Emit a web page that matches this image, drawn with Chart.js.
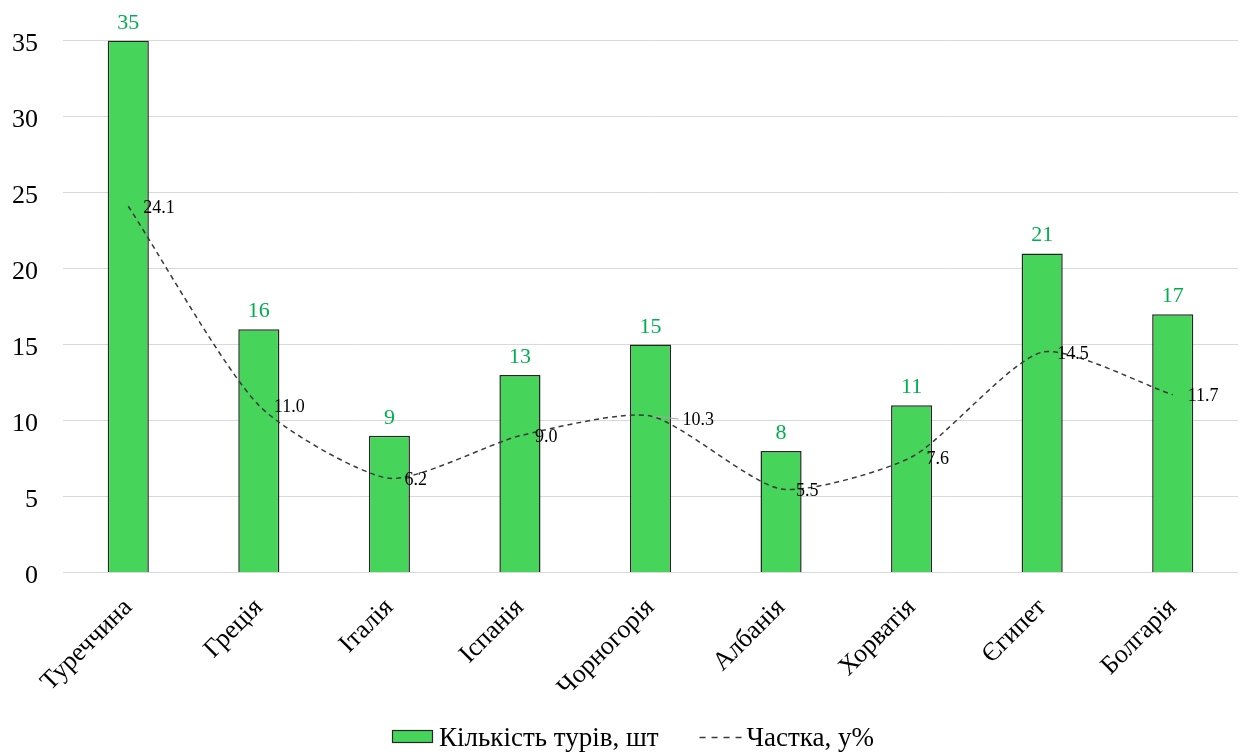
<!DOCTYPE html>
<html lang="uk">
<head>
<meta charset="utf-8">
<title>Кількість турів і частка за країнами</title>
<script src="https://cdn.jsdelivr.net/npm/chart.js@4/dist/chart.umd.min.js"></script>
<style>
  html, body { margin: 0; padding: 0; background: #ffffff; }
  #wrap { width: 1248px; height: 754px; position: relative; }
</style>
</head>
<body>
<div id="wrap"><canvas id="chart"></canvas></div>
<script>
// Країни
const countries = ['Туреччина', 'Греція', 'Італія', 'Іспанія', 'Чорногорія', 'Албанія', 'Хорватія', 'Єгипет', 'Болгарія'];
// Кількість турів, шт
const tours = [35, 16, 9, 13, 15, 8, 11, 21, 17];
// Частка, у%
const shares = [24.1, 11.0, 6.2, 9.0, 10.3, 5.5, 7.6, 14.5, 11.7];
// Поділки осі Y
const yTicks = [0, 5, 10, 15, 20, 25, 30, 35];

const SERIF = '"Liberation Serif", "Times New Roman", serif';
const BAR_FILL = '#47d45a';
const BAR_EDGE = '#262626';
const LINE_COLOR = '#3a3a3a';

// Підписи значень над стовпчиками та біля точок лінії
const valueLabels = {
  id: 'valueLabels',
  afterDatasetsDraw(chart, args, opts) {
    const ctx = chart.ctx;
    chart.data.datasets.forEach((ds, di) => {
      const meta = chart.getDatasetMeta(di);
      if (meta.hidden) return;
      meta.data.forEach((el, i) => {
        const v = ds.data[i];
        ctx.save();
        if (meta.type === 'bar') {
          ctx.font = '22px ' + SERIF;
          ctx.fillStyle = '#00b050';
          ctx.textAlign = 'center';
          ctx.textBaseline = 'alphabetic';
          ctx.fillText(String(v), el.x, el.y - 12);
        } else {
          const shift = (opts.lineShift && opts.lineShift[i]) || 0;
          if (shift) {
            // короткий виносний штрих до зсунутого підпису
            ctx.strokeStyle = '#a6a6a6';
            ctx.lineWidth = 1;
            ctx.beginPath();
            ctx.moveTo(el.x + 2, el.y);
            ctx.lineTo(el.x + 14 + shift - 3, el.y + 3);
            ctx.stroke();
          }
          ctx.font = '18px ' + SERIF;
          ctx.fillStyle = '#000000';
          ctx.textAlign = 'left';
          ctx.textBaseline = 'middle';
          ctx.fillText(v.toFixed(1), el.x + 15 + shift, el.y + 2 + (shift ? 2 : 0));
        }
        ctx.restore();
      });
    });
  }
};

// Легенда під графіком
const bottomLegend = {
  id: 'bottomLegend',
  afterDraw(chart) {
    const ctx = chart.ctx;
    const ds = chart.data.datasets;
    const baseY = 746;
    let x = 392;
    ctx.save();
    ctx.font = '27px ' + SERIF;
    ctx.textBaseline = 'alphabetic';
    ctx.textAlign = 'left';
    // стовпчик
    ctx.fillStyle = BAR_FILL;
    ctx.fillRect(x, 730, 41, 13);
    ctx.strokeStyle = BAR_EDGE;
    ctx.lineWidth = 1.2;
    ctx.strokeRect(x + 0.5, 730.5, 40, 12);
    x += 47;
    ctx.fillStyle = '#000000';
    ctx.fillText(ds[0].label, x, baseY);
    x += ctx.measureText(ds[0].label).width + 41;
    // лінія
    ctx.strokeStyle = LINE_COLOR;
    ctx.lineWidth = 1.3;
    ctx.setLineDash([6, 6]);
    ctx.beginPath();
    ctx.moveTo(x, 737.5);
    ctx.lineTo(x + 42, 737.5);
    ctx.stroke();
    ctx.setLineDash([]);
    x += 47;
    ctx.fillText(ds[1].label, x, baseY);
    ctx.restore();
  }
};

new Chart(document.getElementById('chart'), {
  data: {
    labels: countries,
    datasets: [
      {
        type: 'bar',
        label: 'Кількість турів, шт',
        data: tours,
        backgroundColor: BAR_FILL,
        borderColor: BAR_EDGE,
        borderWidth: 1.5,
        barPercentage: 0.315,
        categoryPercentage: 1.0,
        order: 1
      },
      {
        type: 'line',
        label: 'Частка, у%',
        data: shares,
        borderColor: LINE_COLOR,
        borderWidth: 1.5,
        borderDash: [5, 4],
        tension: 0.22,
        pointRadius: 0,
        pointHoverRadius: 0,
        fill: false,
        order: 0
      }
    ]
  },
  options: {
    responsive: true,
    maintainAspectRatio: false,
    animation: false,
    layout: { padding: { top: 34, right: 10, left: 10, bottom: 31 } },
    scales: {
      x: {
        grid: { display: false, drawTicks: false },
        border: { display: false },
        afterFit(scale) {
          // повернуті підписи не повинні звужувати область графіка
          scale.paddingLeft = 0;
          scale.paddingRight = 0;
        },
        ticks: {
          minRotation: 45,
          maxRotation: 45,
          padding: 20,
          color: '#000000',
          font: { family: SERIF, size: 26 }
        }
      },
      y: {
        min: 0,
        max: 35,
        afterBuildTicks(scale) {
          scale.ticks = yTicks.map(v => ({ value: v }));
        },
        afterFit(scale) {
          // ширина осі: найширший підпис плюс відступ
          scale.width = 53;
        },
        grid: { color: '#d9d9d9', lineWidth: 1, drawTicks: false },
        border: { display: false },
        ticks: {
          padding: 25,
          labelOffset: 4,
          color: '#000000',
          font: { family: SERIF, size: 26 }
        }
      }
    },
    plugins: {
      tooltip: { enabled: false },
      legend: { display: false },
      valueLabels: { lineShift: { 4: 17 } }
    }
  },
  plugins: [valueLabels, bottomLegend]
});
</script>
</body>
</html>
